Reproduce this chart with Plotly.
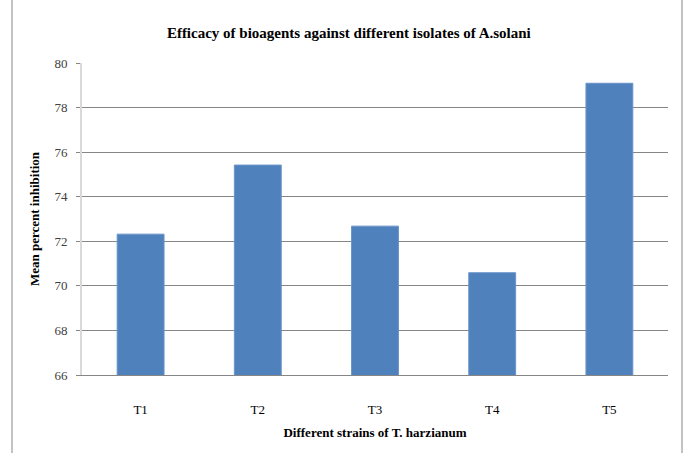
import plotly.graph_objects as go

# Inhibition of A. solani by five T. harzianum strains
strains = ["T1", "T2", "T3", "T4", "T5"]
mean_inhibition = [72.32, 75.42, 72.68, 70.59, 79.09]
y_ticks = [66, 68, 70, 72, 74, 76, 78, 80]

BAR_BLUE = "#4F81BD"
GRID_GRAY = "#868686"
SERIF = "Liberation Serif"

fig = go.Figure(
    go.Bar(
        x=strains,
        y=mean_inhibition,
        marker=dict(color=BAR_BLUE, line=dict(color="#6A95C9", width=1)),
        hoverinfo="x+y",
    )
)

fig.update_layout(
    width=688,
    height=453,
    margin=dict(l=82, r=20, t=63, b=78),
    paper_bgcolor="white",
    plot_bgcolor="white",
    bargap=0.6,
    showlegend=False,
    font=dict(family=SERIF, color="black"),
    title=dict(
        text="<b>Efficacy of bioagents against different isolates of A.solani</b>",
        font=dict(family=SERIF, size=15, color="black"),
        x=0.507,
        xref="container",
        xanchor="center",
        y=1 - 33 / 453,
        yref="container",
        yanchor="middle",
    ),
    xaxis=dict(
        showline=True,
        linecolor=GRID_GRAY,
        linewidth=1,
        ticks="",
        ticklabelstandoff=22,
        tickfont=dict(family=SERIF, size=13, color="black"),
        title=dict(
            text="<b>Different strains of T. harzianum</b>",
            font=dict(family=SERIF, size=13, color="black"),
            standoff=12,
        ),
        showgrid=False,
    ),
    yaxis=dict(
        range=[66, 80],
        tickvals=y_ticks,
        showgrid=True,
        gridcolor=GRID_GRAY,
        gridwidth=1,
        showline=True,
        linecolor="#D9D9D9",
        linewidth=2,
        ticks="outside",
        ticklen=4,
        tickcolor=GRID_GRAY,
        ticklabelstandoff=6,
        tickfont=dict(family=SERIF, size=13, color="#404040"),
        title=dict(
            text="<b>Mean percent inhibition</b>",
            font=dict(family=SERIF, size=13, color="black"),
            standoff=12,
        ),
        zeroline=False,
    ),
)

# Chart-area frame edges on the left and right
for xp in [(12 - 82) / 586, (682 - 82) / 586]:
    fig.add_shape(
        type="line",
        xref="paper",
        yref="paper",
        x0=xp,
        x1=xp,
        y0=-0.3,
        y1=1.25,
        line=dict(color=GRID_GRAY, width=1),
    )

fig.write_html("out.html")
